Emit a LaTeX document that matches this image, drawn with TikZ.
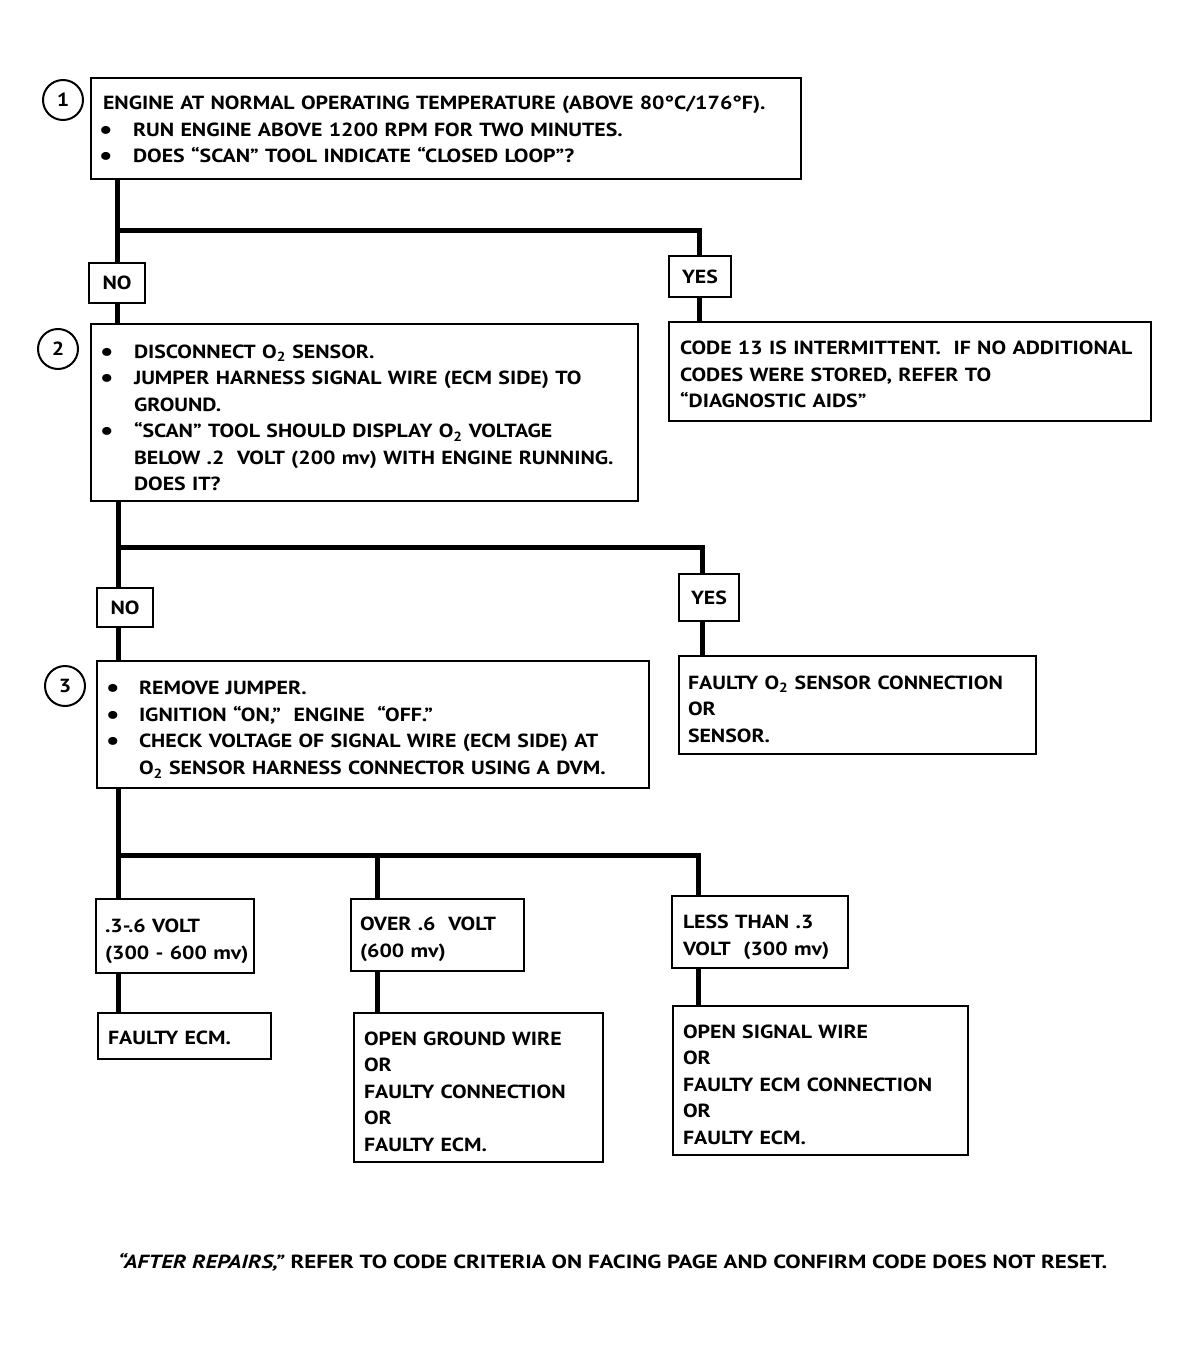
\documentclass[tikz,border=0pt]{standalone}
\usepackage{fontspec}
\setmainfont{PT Sans}[FakeStretch=1.15]
\newfontfamily\footf{PT Sans}[FakeStretch=1.21]
\newcommand{\bigdot}{\hspace*{-6pt}\raisebox{-2pt}{\fontsize{26}{26}\selectfont•}}
\newcommand{\bitem}{\makebox[28pt][l]{\bigdot}}
\newcommand{\bcont}{\hspace*{28pt}}
\newcommand{\Otwo}{O\textsubscript{2}}
\newcommand{\tup}[1]{\rule{0pt}{#1}}
\begin{document}
\begin{tikzpicture}[x=1pt,y=-1pt,
  box/.style={draw,line width=2pt,anchor=north west,align=left,inner xsep=0pt,inner ysep=0pt,
    font=\bfseries\fontsize{19}{26.5}\selectfont},
  lbl/.style={draw,line width=2pt,anchor=north west,align=center,inner sep=0pt,
    font=\bfseries\fontsize{19}{26.5}\selectfont},
  num/.style={draw,circle,line width=2pt,minimum size=40pt,inner sep=0pt,
    font=\bfseries\fontsize{19}{19}\selectfont},
  conn/.style={line width=5pt}]
\useasboundingbox (0,0) rectangle (1188,1351);
% step 1
\node[box,minimum width=710pt,minimum height=101pt,text width=710pt] (b1) at (90,77)
 {\tup{18pt}\hspace*{12pt}ENGINE AT NORMAL OPERATING TEMPERATURE (ABOVE 80°C/176°F).\\
  \hspace*{14pt}\bitem RUN ENGINE ABOVE 1200 RPM FOR TWO MINUTES.\\
  \hspace*{14pt}\bitem DOES “SCAN” TOOL INDICATE “CLOSED LOOP”?};
\node[num] (c1) at (63,100) {1};
\node[lbl,minimum width=56pt,minimum height=40pt] (no1) at (88,262) {NO};
\node[lbl,minimum width=62pt,minimum height=41pt] (yes1) at (668,255) {YES};
% step 2
\node[box,minimum width=547pt,minimum height=177pt,text width=547pt] (b2) at (90,323)
 {\tup{24pt}\hspace*{15pt}\bitem DISCONNECT \Otwo{} SENSOR.\\
  \hspace*{15pt}\bitem JUMPER HARNESS SIGNAL WIRE (ECM SIDE) TO\\
  \hspace*{15pt}\bcont GROUND.\\
  \hspace*{15pt}\bitem “SCAN” TOOL SHOULD DISPLAY \Otwo{} VOLTAGE\\
  \hspace*{15pt}\bcont BELOW .2~ VOLT (200 mv) WITH ENGINE RUNNING.\\
  \hspace*{15pt}\bcont DOES IT?};
\node[num] (c2) at (58,349) {2};
\node[box,minimum width=482pt,minimum height=99pt,text width=482pt] (r2) at (668,321)
 {\tup{20pt}\hspace*{11pt}CODE 13 IS INTERMITTENT.~ IF NO ADDITIONAL\\
  \hspace*{11pt}CODES WERE STORED, REFER TO\\
  \hspace*{11pt}“DIAGNOSTIC AIDS”};
\node[lbl,minimum width=56pt,minimum height=39pt] (no2) at (96,587) {NO};
\node[lbl,minimum width=60pt,minimum height=47pt] (yes2) at (678,573) {YES};
% step 3
\node[box,minimum width=552pt,minimum height=127pt,text width=552pt] (b3) at (96,660)
 {\tup{24pt}\hspace*{15pt}\makebox[27pt][l]{\bigdot}REMOVE JUMPER.\\
  \hspace*{15pt}\makebox[27pt][l]{\bigdot}IGNITION “ON,”~ ENGINE~ “OFF.”\\
  \hspace*{15pt}\makebox[27pt][l]{\bigdot}CHECK VOLTAGE OF SIGNAL WIRE (ECM SIDE) AT\\
  \hspace*{42pt}\Otwo{} SENSOR HARNESS CONNECTOR USING A DVM.};
\node[num] (c3) at (65,686) {3};
\node[box,minimum width=357pt,minimum height=98pt,text width=357pt] (r3) at (678,655)
 {\tup{22pt}\hspace*{9pt}FAULTY \Otwo{} SENSOR CONNECTION\\
  \hspace*{9pt}OR\\
  \hspace*{9pt}SENSOR.};
% voltage branches
\node[box,minimum width=158pt,minimum height=74pt,text width=158pt] (v1) at (95,898)
 {\tup{24pt}\hspace*{9pt}.3-.6 VOLT\\ \hspace*{9pt}(300 - 600 mv)};
\node[box,minimum width=173pt,minimum height=72pt,text width=173pt] (v2) at (350,898)
 {\tup{22pt}\hspace*{9pt}OVER .6~ VOLT\\ \hspace*{9pt}(600 mv)};
\node[box,minimum width=176pt,minimum height=72pt,text width=176pt] (v3) at (671,895)
 {\tup{24pt}\hspace*{11pt}LESS THAN .3\\ \hspace*{11pt}VOLT~ (300 mv)};
\node[box,minimum width=173pt,minimum height=46pt,text width=173pt] (o1) at (97,1012)
 {\tup{18pt}\hspace*{10pt}FAULTY ECM.};
\node[box,minimum width=249pt,minimum height=149pt,text width=249pt] (o2) at (353,1012)
 {\tup{22pt}\hspace*{10pt}OPEN GROUND WIRE\\ \hspace*{10pt}OR\\ \hspace*{10pt}FAULTY CONNECTION\\
  \hspace*{10pt}OR\\ \hspace*{10pt}FAULTY ECM.};
\node[box,minimum width=295pt,minimum height=149pt,text width=295pt] (o3) at (672,1005)
 {\tup{22pt}\hspace*{10pt}OPEN SIGNAL WIRE\\ \hspace*{10pt}OR\\ \hspace*{10pt}FAULTY ECM CONNECTION\\
  \hspace*{10pt}OR\\ \hspace*{10pt}FAULTY ECM.};
% footer
\node[anchor=base west,inner sep=0pt,font=\footf\bfseries\fontsize{19}{22}\selectfont] (foot) at (118,1268)
 {\textit{“AFTER REPAIRS,”} REFER TO CODE CRITERIA ON FACING PAGE AND CONFIRM CODE DOES NOT RESET.};
% connectors
\coordinate (j1) at (117,230);
\coordinate (j1r) at (699,230);
\draw[conn] (b1.south -| j1) -- (no1.north -| j1);
\draw[conn] (j1) -- (j1r) -- (yes1.north -| j1r);
\draw[conn] (no1.south -| j1) -- (b2.north -| j1);
\draw[conn] (yes1.south -| j1r) -- (r2.north -| j1r);
\coordinate (j2) at (118,547);
\coordinate (j2r) at (702,547);
\draw[conn] (b2.south -| j2) -- (no2.north -| j2);
\draw[conn] (j2) -- (j2r) -- (yes2.north -| j2r);
\draw[conn] (no2.south -| j2) -- (b3.north -| j2);
\draw[conn] (yes2.south -| j2r) -- (r3.north -| j2r);
\coordinate (j3) at (118,855);
\coordinate (j3m) at (377,855);
\coordinate (j3r) at (698,855);
\draw[conn] (b3.south -| j3) -- (v1.north -| j3);
\draw[conn] (j3) -- (j3r) -- (v3.north -| j3r);
\draw[conn] (j3m) -- (v2.north -| j3m);
\draw[conn] (v1.south -| j3) -- (o1.north -| j3);
\draw[conn] (v2.south -| j3m) -- (o2.north -| j3m);
\draw[conn] (v3.south -| j3r) -- (o3.north -| j3r);
\end{tikzpicture}
\end{document}
